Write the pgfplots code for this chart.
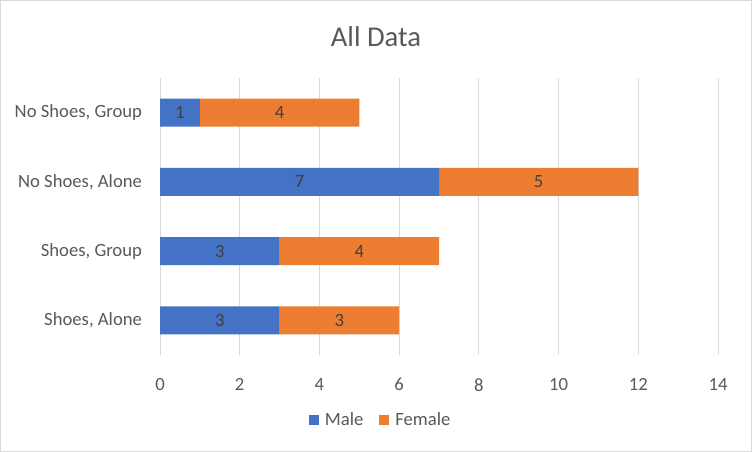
\documentclass[border=0pt]{standalone}
\usepackage{pgfplots}
\pgfplotsset{compat=1.18}
\usepackage{pgfplotstable}
\usepackage{fontspec}
\setmainfont{Carlito}
\definecolor{xblue}{HTML}{4472C4}
\definecolor{xorange}{HTML}{ED7D31}
\definecolor{txt}{HTML}{595959}
\definecolor{lbl}{HTML}{404040}
\definecolor{grd}{HTML}{D9D9D9}

% rows bottom to top
\pgfplotstableread{
y m f
0 3 3
1 3 4
2 7 5
3 1 4
}\alldata

\begin{document}
\begin{tikzpicture}
\useasboundingbox (0,0) rectangle (564pt,339pt);
\draw[grd, line width=0.75pt] (0.375pt,0.375pt) rectangle (563.625pt,338.625pt);
\node[txt, font=\fontsize{21.5}{24}\selectfont] at (282pt,311.75pt) {All Data};
\begin{axis}[
    at={(120pt,72.75pt)}, anchor=south west,
    scale only axis, width=418.5pt, height=207.75pt,
    xbar stacked, bar width=21pt,
    xmin=0, xmax=14, ymin=-0.5, ymax=3.5,
    xtick={0,2,...,14},
    ytick={0,1,2,3},
    yticklabels={{Shoes, Alone},{Shoes, Group},{No Shoes, Alone},{No Shoes, Group}},
    axis line style={draw=none},
    major tick length=0pt,
    xmajorgrids, grid style={grd, line width=0.75pt},
    tick label style={txt, font=\fontsize{14}{16}\selectfont},
    xticklabel style={yshift=-14pt},
    yticklabel style={xshift=-10pt},
    /pgf/number format/assume math mode=true,
    point meta=explicit,
    nodes near coords,
    every node near coord/.append style={lbl, font=\fontsize{14}{16}\selectfont, anchor=center},
    legend style={at={(0.396,-0.2347)}, anchor=center, draw=none, legend columns=2,
        font=\fontsize{14}{16}\selectfont, text=txt,
        /tikz/every odd column/.append style={column sep=2.5pt},
        /tikz/every even column/.append style={column sep=10pt}},
    legend image code/.code={\fill[#1] (0pt,-3.75pt) rectangle (7.5pt,3.75pt);},
]
\addplot[fill=xblue, draw=none] table[x=m, y=y, meta=m] {\alldata};
\addplot[fill=xorange, draw=none] table[x=f, y=y, meta=f] {\alldata};
\legend{Male, Female}
\end{axis}
\end{tikzpicture}
\end{document}
